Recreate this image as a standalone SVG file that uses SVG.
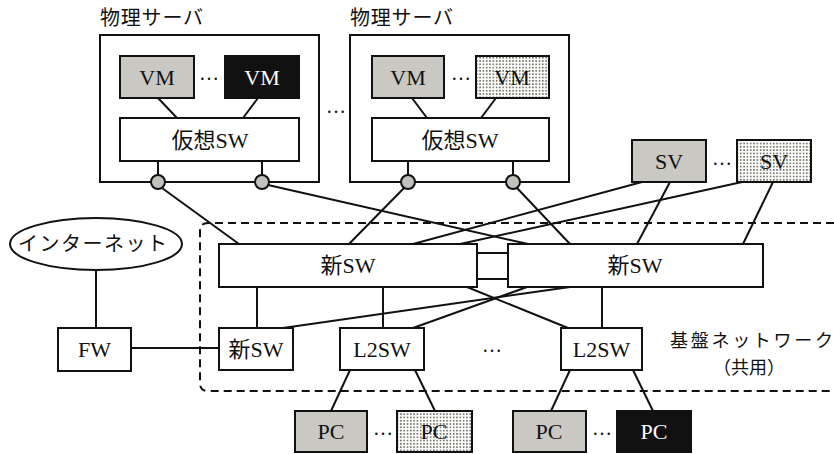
<svg xmlns="http://www.w3.org/2000/svg" width="834" height="454" viewBox="0 0 834 454">
<defs>
<pattern id="dots" width="3.3" height="3.3" patternUnits="userSpaceOnUse">
<rect width="3.3" height="3.3" fill="#fbfbf8"/>
<circle cx="1.6" cy="1.6" r="0.7" fill="#222"/>
</pattern>
<style>
.box{fill:#fff;stroke:#111;stroke-width:2}
.gray{fill:#c9c8c2;stroke:#111;stroke-width:2}
.black{fill:#111;stroke:#111;stroke-width:2}
.dot{fill:url(#dots);stroke:#111;stroke-width:2}
.port{fill:#c2c2bd;stroke:#111;stroke-width:2}
.ln{stroke:#111;stroke-width:2;fill:none}
.t{font-family:"Liberation Serif","Noto Sans CJK JP",serif;font-size:22px;fill:#111;text-anchor:middle}
.tw{fill:#fff}
.j{font-family:"Noto Sans CJK JP",sans-serif;font-size:20px;fill:#111}
.jb{font-family:"Noto Sans CJK JP",sans-serif;font-size:18px;fill:#111}
.el{font-family:"Liberation Serif",serif;font-size:20px;fill:#111;text-anchor:middle}
</style>
</defs>
<rect width="834" height="454" fill="#fff"/>

<g id="server1">
<text class="j" x="100" y="25" textLength="103" lengthAdjust="spacing">物理サーバ</text>
<rect class="box" x="100" y="35" width="219" height="147"/>
</g>
<g id="server2">
<text class="j" x="350" y="25" textLength="103" lengthAdjust="spacing">物理サーバ</text>
<rect class="box" x="350" y="35" width="219" height="147"/>
</g>

<g id="base-network">
<path d="M834,223 H208 Q200,223 200,231 V383 Q200,391 208,391 H834" fill="none" stroke="#111" stroke-width="2" stroke-dasharray="8,5"/>
<text class="jb" x="670" y="347" textLength="163" lengthAdjust="spacing">基盤ネットワーク</text>
<text class="jb" x="749" y="374" text-anchor="middle">（共用）</text>
</g>

<g id="connectors">
<line class="ln" x1="158" y1="98" x2="177" y2="118"/>
<line class="ln" x1="258" y1="98" x2="243" y2="118"/>
<line class="ln" x1="158" y1="161" x2="158" y2="175"/>
<line class="ln" x1="262" y1="161" x2="262" y2="175"/>
<line class="ln" x1="412" y1="98" x2="427" y2="118"/>
<line class="ln" x1="496" y1="98" x2="481" y2="118"/>
<line class="ln" x1="408" y1="161" x2="408" y2="175"/>
<line class="ln" x1="513" y1="161" x2="513" y2="175"/>
<line class="ln" x1="162" y1="188" x2="239" y2="244"/>
<line class="ln" x1="268" y1="185" x2="528" y2="244"/>
<line class="ln" x1="404" y1="188" x2="349" y2="244"/>
<line class="ln" x1="517" y1="188" x2="570" y2="244"/>
<line class="ln" x1="642" y1="182" x2="413" y2="244"/>
<line class="ln" x1="742" y1="182" x2="460" y2="244"/>
<line class="ln" x1="670" y1="182" x2="637" y2="244"/>
<line class="ln" x1="773" y1="182" x2="743" y2="244"/>
<line class="ln" x1="477" y1="253" x2="508" y2="253"/>
<line class="ln" x1="477" y1="279" x2="508" y2="279"/>
<line class="ln" x1="257" y1="287" x2="257" y2="328"/>
<line class="ln" x1="383" y1="287" x2="383" y2="328"/>
<line class="ln" x1="602" y1="287" x2="602" y2="328"/>
<line class="ln" x1="467" y1="287" x2="568" y2="328"/>
<line class="ln" x1="570" y1="287" x2="283" y2="328"/>
<line class="ln" x1="527" y1="287" x2="413" y2="328"/>
<line class="ln" x1="96" y1="270" x2="96" y2="328"/>
<line class="ln" x1="131" y1="348" x2="219" y2="348"/>
<line class="ln" x1="350" y1="370" x2="331" y2="411"/>
<line class="ln" x1="415" y1="370" x2="435" y2="411"/>
<line class="ln" x1="570" y1="370" x2="551" y2="411"/>
<line class="ln" x1="633" y1="370" x2="653" y2="411"/>
</g>

<g id="vm1"><rect class="gray" x="120" y="56" width="74" height="42"/><text class="t" x="157" y="85">VM</text></g>
<text class="el" x="209" y="80">…</text>
<g id="vm2"><rect class="black" x="225" y="56" width="74" height="42"/><text class="t tw" x="262" y="85">VM</text></g>
<g id="vsw1"><rect class="box" x="120" y="118" width="179" height="43"/><text class="t" x="210" y="148">仮想SW</text></g>
<g id="port1"><circle class="port" cx="158" cy="182" r="7"/></g>
<g id="port2"><circle class="port" cx="262" cy="182" r="7"/></g>

<text class="el" x="336" y="113">…</text>

<g id="vm3"><rect class="gray" x="372" y="56" width="72" height="42"/><text class="t" x="408" y="85">VM</text></g>
<text class="el" x="461" y="80">…</text>
<g id="vm4"><rect class="dot" x="476" y="56" width="73" height="42"/><text class="t" x="512" y="85">VM</text></g>
<g id="vsw2"><rect class="box" x="372" y="118" width="177" height="43"/><text class="t" x="460" y="148">仮想SW</text></g>
<g id="port3"><circle class="port" cx="408" cy="182" r="7"/></g>
<g id="port4"><circle class="port" cx="513" cy="182" r="7"/></g>

<g id="sv1"><rect class="gray" x="632" y="140" width="74" height="42"/><text class="t" x="669" y="169">SV</text></g>
<text class="el" x="722" y="165">…</text>
<g id="sv2"><rect class="dot" x="737" y="140" width="74" height="42"/><text class="t" x="774" y="169">SV</text></g>

<g id="internet"><ellipse cx="96" cy="244" rx="86" ry="26" fill="#fff" stroke="#111" stroke-width="2"/><text class="j" x="18" y="251" textLength="149" lengthAdjust="spacing">インターネット</text></g>
<g id="fw"><rect class="box" x="58" y="328" width="73" height="43"/><text class="t" x="94.5" y="357">FW</text></g>

<g id="newsw1"><rect class="box" x="219" y="244" width="258" height="43"/><text class="t" x="348" y="273">新SW</text></g>
<g id="newsw2"><rect class="box" x="508" y="244" width="255" height="43"/><text class="t" x="635" y="273">新SW</text></g>
<g id="newsw3"><rect class="box" x="219" y="328" width="74" height="42"/><text class="t" x="256" y="357">新SW</text></g>
<g id="l2sw1"><rect class="box" x="340" y="328" width="84" height="42"/><text class="t" x="382" y="357">L2SW</text></g>
<text class="el" x="492" y="352">…</text>
<g id="l2sw2"><rect class="box" x="561" y="328" width="81" height="42"/><text class="t" x="601.5" y="357">L2SW</text></g>

<g id="pc1"><rect class="gray" x="295" y="411" width="72" height="41"/><text class="t" x="331" y="439">PC</text></g>
<text class="el" x="383" y="435">…</text>
<g id="pc2"><rect class="dot" x="397" y="411" width="75" height="41"/><text class="t" x="434" y="439">PC</text></g>
<g id="pc3"><rect class="gray" x="513" y="411" width="73" height="41"/><text class="t" x="549" y="439">PC</text></g>
<text class="el" x="602" y="435">…</text>
<g id="pc4"><rect class="black" x="617" y="411" width="74" height="41"/><text class="t tw" x="654" y="439">PC</text></g>
</svg>
